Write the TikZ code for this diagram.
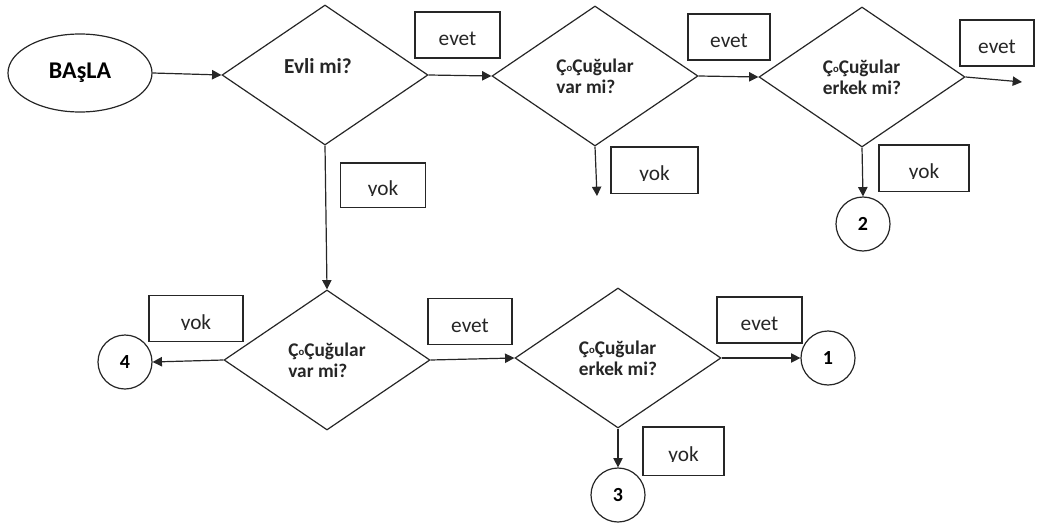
\documentclass[tikz,border=0pt]{standalone}
\usepackage{fontspec}
\setmainfont{Carlito}
\usepackage{graphicx}
\usetikzlibrary{shapes.geometric,arrows.meta}
% small baseline "o" used inside the question labels
\newcommand{\smallo}{\raisebox{0.05ex}{\scalebox{0.55}{o}}}
\tikzset{
  base/.style={draw=black!85, line width=0.9pt},
  dia/.style={base, shape=diamond, inner sep=0pt, minimum width=154.5pt, minimum height=105pt,
              font=\bfseries\fontsize{14.5}{15.5}\selectfont, align=left, text=black!85},
  qtext/.style={font=\bfseries\fontsize{16}{18}\selectfont, text=black!85, inner sep=0pt},
  lbox/.style={base, rectangle, inner sep=0pt, minimum height=34.5pt,
               font=\fontsize{16}{18}\selectfont, text height=16pt, text depth=0pt, text=black!85},
  conn/.style={base, circle, inner sep=0pt, minimum size=40.5pt,
               font=\bfseries\fontsize{15}{17}\selectfont},
  startnode/.style={base, ellipse, inner sep=0pt, minimum width=108pt, minimum height=58.5pt,
                    font=\bfseries\fontsize{18}{20}\selectfont},
  flow/.style={base, -{Triangle[length=7pt,width=7pt]}},
  % the boxed "yok" labels are cut off at the baseline by their box
  cutbase/.style={fill=white, draw=none}
}
\begin{document}
\begin{tikzpicture}[x=0.75pt, y=-0.75pt]
\useasboundingbox (0,0) rectangle (1037,524);

% start
\node[startnode] (start) at (80,73) {BAşLA};

% decisions
\node[dia] (d1) at (325,75) {};
\node[qtext] (d1t) at (318,66) {Evli mi?};
\node[dia] (d2) at (595,76) {Ç\smallo Çuğular\\var mi?};
\node[dia] (d3) at (862,77) {Ç\smallo Çuğular\\erkek mi?};
\node[dia] (d4) at (327,360) {Ç\smallo Çuğular\\var mi?};
\node[dia] (d5) at (618,358) {Ç\smallo Çuğular\\erkek mi?};

% connectors
\node[conn] (c2) at (863,224) {2};
\node[conn] (c4) at (125,362) {4};
\node[conn] (c1) at (828,358) {1};
\node[conn] (c3) at (618,495) {3};

% answer boxes
\node[lbox, minimum width=63.75pt] (e1) at (457.5,35) {evet};
\node[lbox, minimum width=61.5pt]  (e2) at (729,37) {evet};
\node[lbox, minimum width=55.5pt]  (e3) at (997,43) {evet};
\node[lbox, minimum width=65.25pt] (y2) at (654.5,170) {yok};
\node[lbox, minimum width=67.5pt]  (y3) at (924,168) {yok};
\node[lbox, minimum width=63.75pt, minimum height=33pt] (y1) at (383,185) {yok};
\node[lbox, minimum width=70.5pt]  (y4) at (196,318.5) {yok};
\node[lbox, minimum width=63pt]    (e4) at (470,321.5) {evet};
\node[lbox, minimum width=63.75pt] (e5) at (759.5,320) {evet};
\node[lbox, minimum width=60.75pt, minimum height=36pt] (y5) at (683.5,451) {yok};

% hide the descenders below each "yok" baseline, inside the box
\foreach \b in {y1,y2,y3,y4,y5}
  \fill[cutbase] ([xshift=1pt,yshift=-0.3pt]\b.base west) rectangle ([xshift=-1pt,yshift=0.7pt]\b.south east);

% open ends
\coordinate (d3out) at (1022,82);
\coordinate (d2out) at (597,196);

% arrows
\draw[flow] (start.east) -- (d1.west);
\draw[flow] (d1.east) -- (d2.west);
\draw[flow] (d2.east) -- (d3.west);
\draw[flow] (d3.east) -- (d3out);
\draw[flow] (d2.south) -- (d2out);
\draw[flow] (d3.south) -- (c2.north);
\draw[flow] (d1.south) -- (d4.north);
\draw[flow] (d4.west) -- (c4.east);
\draw[flow] (d4.east) -- (d5.west);
\draw[flow] (d5.east) -- (c1.west);
\draw[flow] (d5.south) -- (c3.north);
\end{tikzpicture}
\end{document}
